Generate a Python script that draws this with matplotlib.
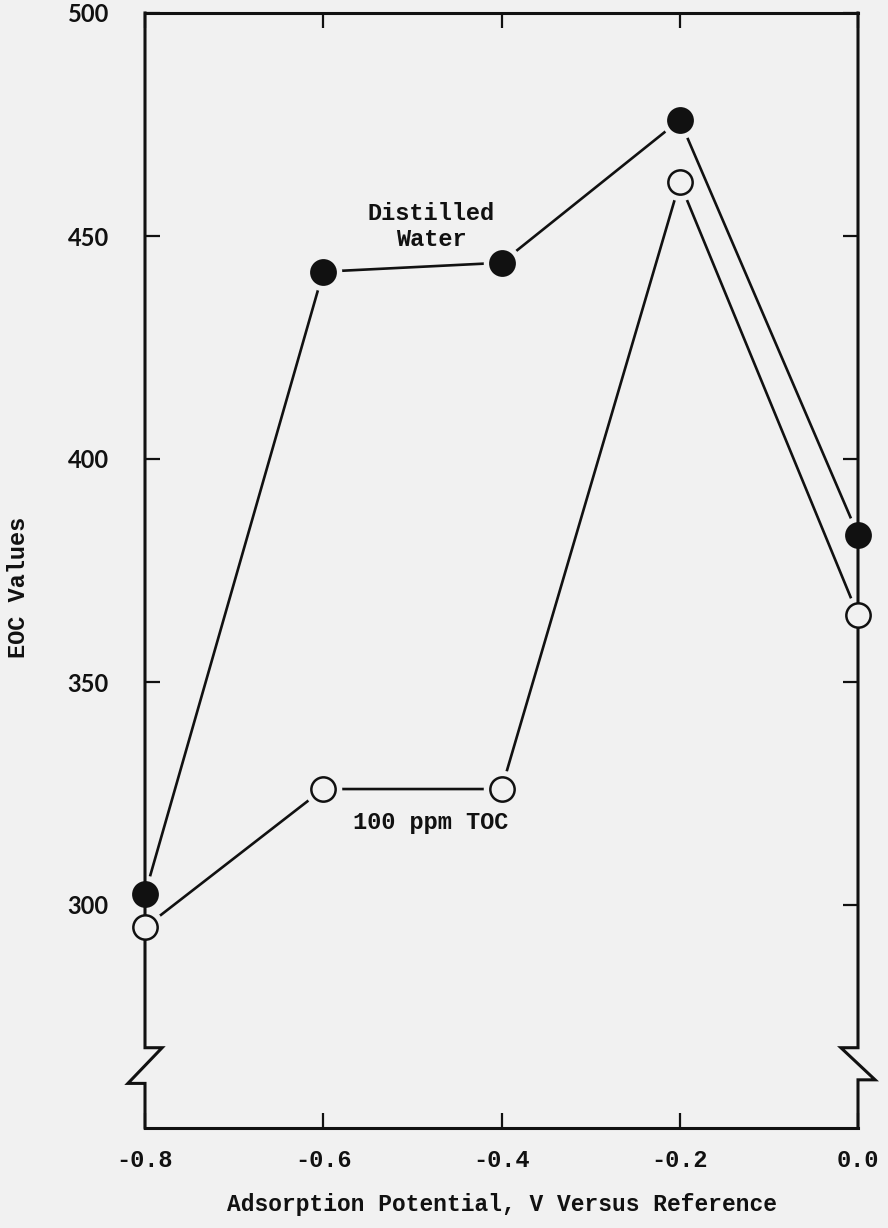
import matplotlib
matplotlib.use("Agg")
import matplotlib.pyplot as plt

# Adsorption potential (V versus reference) and EOC values
potential = [-0.8, -0.6, -0.4, -0.2, 0.0]
eoc_distilled = [302.5, 442, 444, 476, 383]
eoc_toc = [295, 326, 326, 462, 365]

x_ticks = [-0.8, -0.6, -0.4, -0.2, 0.0]
x_tick_labels = ["-0.8", "-0.6", "-0.4", "-0.2", "0.0"]
y_ticks = [300, 350, 400, 450, 500]
y_tick_labels = ["300", "350", "400", "450", "500"]

BG = "#f1f1f1"
INK = "#111111"
MONO = ["Liberation Mono", "DejaVu Sans Mono"]

fig = plt.figure(figsize=(8.88, 12.28), dpi=100, facecolor=BG)
ax = fig.add_axes([145 / 888, 1 - 1128 / 1228, (858 - 145) / 888, (1128 - 13) / 1228])
ax.set_facecolor(BG)
ax.set_xlim(-0.8, 0.0)
ax.set_ylim(250, 500)

# data lines, with a background-coloured halo so lines stop short of the markers
for vals, face in [(eoc_distilled, INK), (eoc_toc, BG)]:
    ax.plot(potential, vals, color=INK, lw=1.9, zorder=2, clip_on=False)
    ax.plot(potential, vals, ls="none", marker="o", ms=26, mfc=BG, mec=BG,
            zorder=3, clip_on=False)
    ax.plot(potential, vals, ls="none", marker="o", ms=17.5, mfc=face, mec=INK,
            mew=1.8, zorder=5, clip_on=False)

# frame: top and bottom spines, hand-drawn side spines with axis breaks
for side in ("left", "right"):
    ax.spines[side].set_visible(False)
for side in ("top", "bottom"):
    ax.spines[side].set_linewidth(2.2)
    ax.spines[side].set_color(INK)

ytr = ax.get_yaxis_transform()
ax.plot([0, 0, 0.024, -0.024, 0, 0], [500, 268, 268, 260, 260, 250],
        color=INK, lw=2.2, transform=ytr, clip_on=False, zorder=4,
        solid_joinstyle="miter")
ax.plot([1, 1, 0.976, 1.024, 1, 1], [500, 268, 268, 260.8, 260.8, 250],
        color=INK, lw=2.2, transform=ytr, clip_on=False, zorder=4,
        solid_joinstyle="miter")

ax.set_xticks(x_ticks)
ax.set_xticklabels(x_tick_labels, fontfamily=MONO, fontsize=17, fontweight="bold")
ax.set_yticks(y_ticks)
ax.set_yticklabels(y_tick_labels, fontfamily=["Lato", "DejaVu Sans"], fontsize=17,
                   fontweight="bold")
ax.tick_params(axis="x", direction="in", top=True, length=11, width=1.6,
               pad=15, colors=INK)
ax.tick_params(axis="y", direction="in", right=True, length=11, width=1.6,
               pad=26, colors=INK)

ax.set_xlabel("Adsorption Potential, V Versus Reference", fontfamily=MONO,
              fontsize=16.5, fontweight="bold", color=INK, va="center")
ax.xaxis.set_label_coords(0.5, (1128 - 1205) / 1115)
ax.set_ylabel("EOC Values", fontfamily=MONO, fontsize=17, fontweight="bold",
              color=INK, va="center")
ax.yaxis.set_label_coords((18 - 145) / 713, (1128 - 587) / 1115)

ax.text(-0.479, 452.2, "Distilled\nWater", fontfamily=MONO, fontsize=17,
        fontweight="bold", ha="center", va="center", linespacing=1.15, color=INK)
ax.text(-0.479, 318.6, "100 ppm TOC", fontfamily=MONO, fontsize=17,
        fontweight="bold", ha="center", va="center", color=INK)

fig.savefig("out.png", dpi=100, facecolor=BG)
